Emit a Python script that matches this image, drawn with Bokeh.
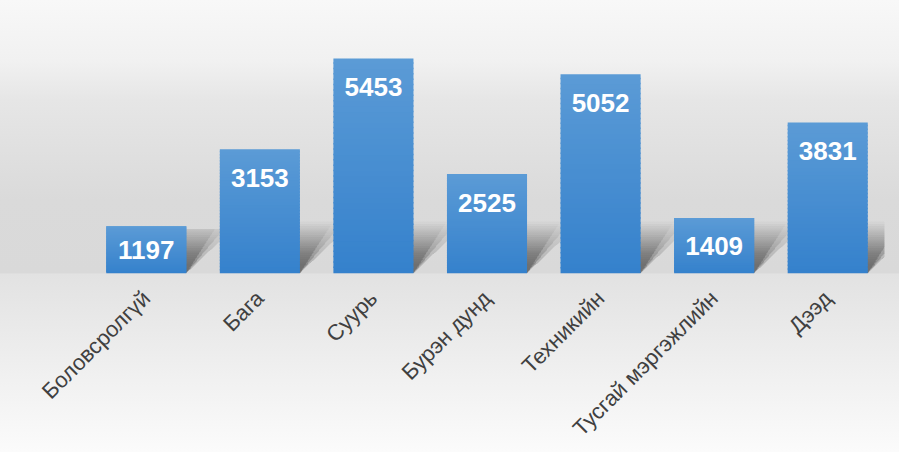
import numpy as np
from bokeh.plotting import figure
from bokeh.models import Range1d, FixedTicker, ColumnDataSource
from bokeh.embed import file_html
from bokeh.resources import INLINE
from bokeh.core.properties import value

categories = ["Боловсролгүй", "Бага", "Суурь", "Бурэн дунд", "Техникийн",
              "Тусгай мэргэжлийн", "Дээд"]
counts = [1197, 3153, 5453, 2525, 5052, 1409, 3831]

FIG_H = 452
BOTTOM = 179
FRAME_H = FIG_H - BOTTOM
Y_MAX = 6924
BAR_W = 0.705
FONT = "Liberation Sans"

x = np.arange(len(categories))
v = np.array(counts, dtype=float)
ypx = Y_MAX / FRAME_H          # data units per pixel (vertical)
xpx = 1.0 / 113.57             # category units per pixel (horizontal)

p = figure(width=899, height=FIG_H, output_backend="svg", toolbar_location=None,
           x_range=Range1d(-0.5, len(categories) - 0.5), y_range=Range1d(0, Y_MAX),
           min_border_left=89, min_border_right=15, min_border_top=0, min_border_bottom=BOTTOM)
p.background_fill_color = None
p.border_fill_color = None
p.outline_line_color = None
p.grid.visible = False
p.yaxis.visible = False
p.styles = {"background": "linear-gradient(to bottom, #f8f8f8 0%, #f1f1f1 13.3%, #e6e6e6 22.1%, "
                          "#dadada 44.2%, #d9d9d9 60.4%, #e2e2e2 60.6%, #fbfbfb 100%)"}

# soft perspective shadows behind the bars (layered, skewed up and to the right)
shadow_xs, shadow_ys = [], []
for xi, vi in zip(x, v):
    bar_px = vi / ypx
    xl, xr = xi - BAR_W / 2, xi + BAR_W / 2
    for h in np.linspace(10, 52, 20):
        for s in (0.65, 0.85, 1.05):
            hh = min(h, 0.95 * bar_px)
            d = hh * s * xpx
            shadow_xs.append([xl, xr, xr + d, xl + d])
            shadow_ys.append([0, 0, hh * ypx, hh * ypx])
p.patches(shadow_xs, shadow_ys, fill_color="black", fill_alpha=0.0085, line_color=None)

# bars with vertical gradient (light top, darker bottom)
N = 40
top_c = np.array([0x5b, 0x9b, 0xd6], dtype=float)
bot_c = np.array([0x35, 0x81, 0xcc], dtype=float)
bx, bb, bt, bc = [], [], [], []
for xi, vi in zip(x, v):
    for k in range(N):
        f = (k + 0.5) / N
        c = bot_c + (top_c - bot_c) * f
        bx.append(xi)
        bb.append(vi * k / N)
        bt.append(min(vi, vi * (k + 1) / N + 1.5 * ypx))
        bc.append("#%02x%02x%02x" % tuple(int(round(t)) for t in c))
p.vbar(x=bx, bottom=bb, top=bt, width=BAR_W, fill_color=bc, line_color=None)

# value labels inside the bars
off = 29 * ypx
label_y = np.maximum(v - off, v / 2)
src = ColumnDataSource(dict(x=x, y=label_y, t=[str(c) for c in counts]))
p.text(x="x", y="y", text="t", source=src, text_align="center", text_baseline="middle",
       text_color="white", text_font=value(FONT), text_font_style="bold",
       text_font_size="26px")

ax = p.xaxis[0]
ax.ticker = FixedTicker(ticks=list(x))
ax.major_label_overrides = {int(i): c for i, c in zip(x, categories)}
ax.major_label_orientation = np.pi / 4
ax.major_label_text_font = FONT
ax.major_label_text_font_size = "22px"
ax.major_label_text_color = "#404040"
ax.major_label_standoff = 15
ax.axis_line_color = None
ax.major_tick_line_color = None
ax.minor_tick_line_color = None

open("out.html", "w").write(file_html(p, INLINE))
